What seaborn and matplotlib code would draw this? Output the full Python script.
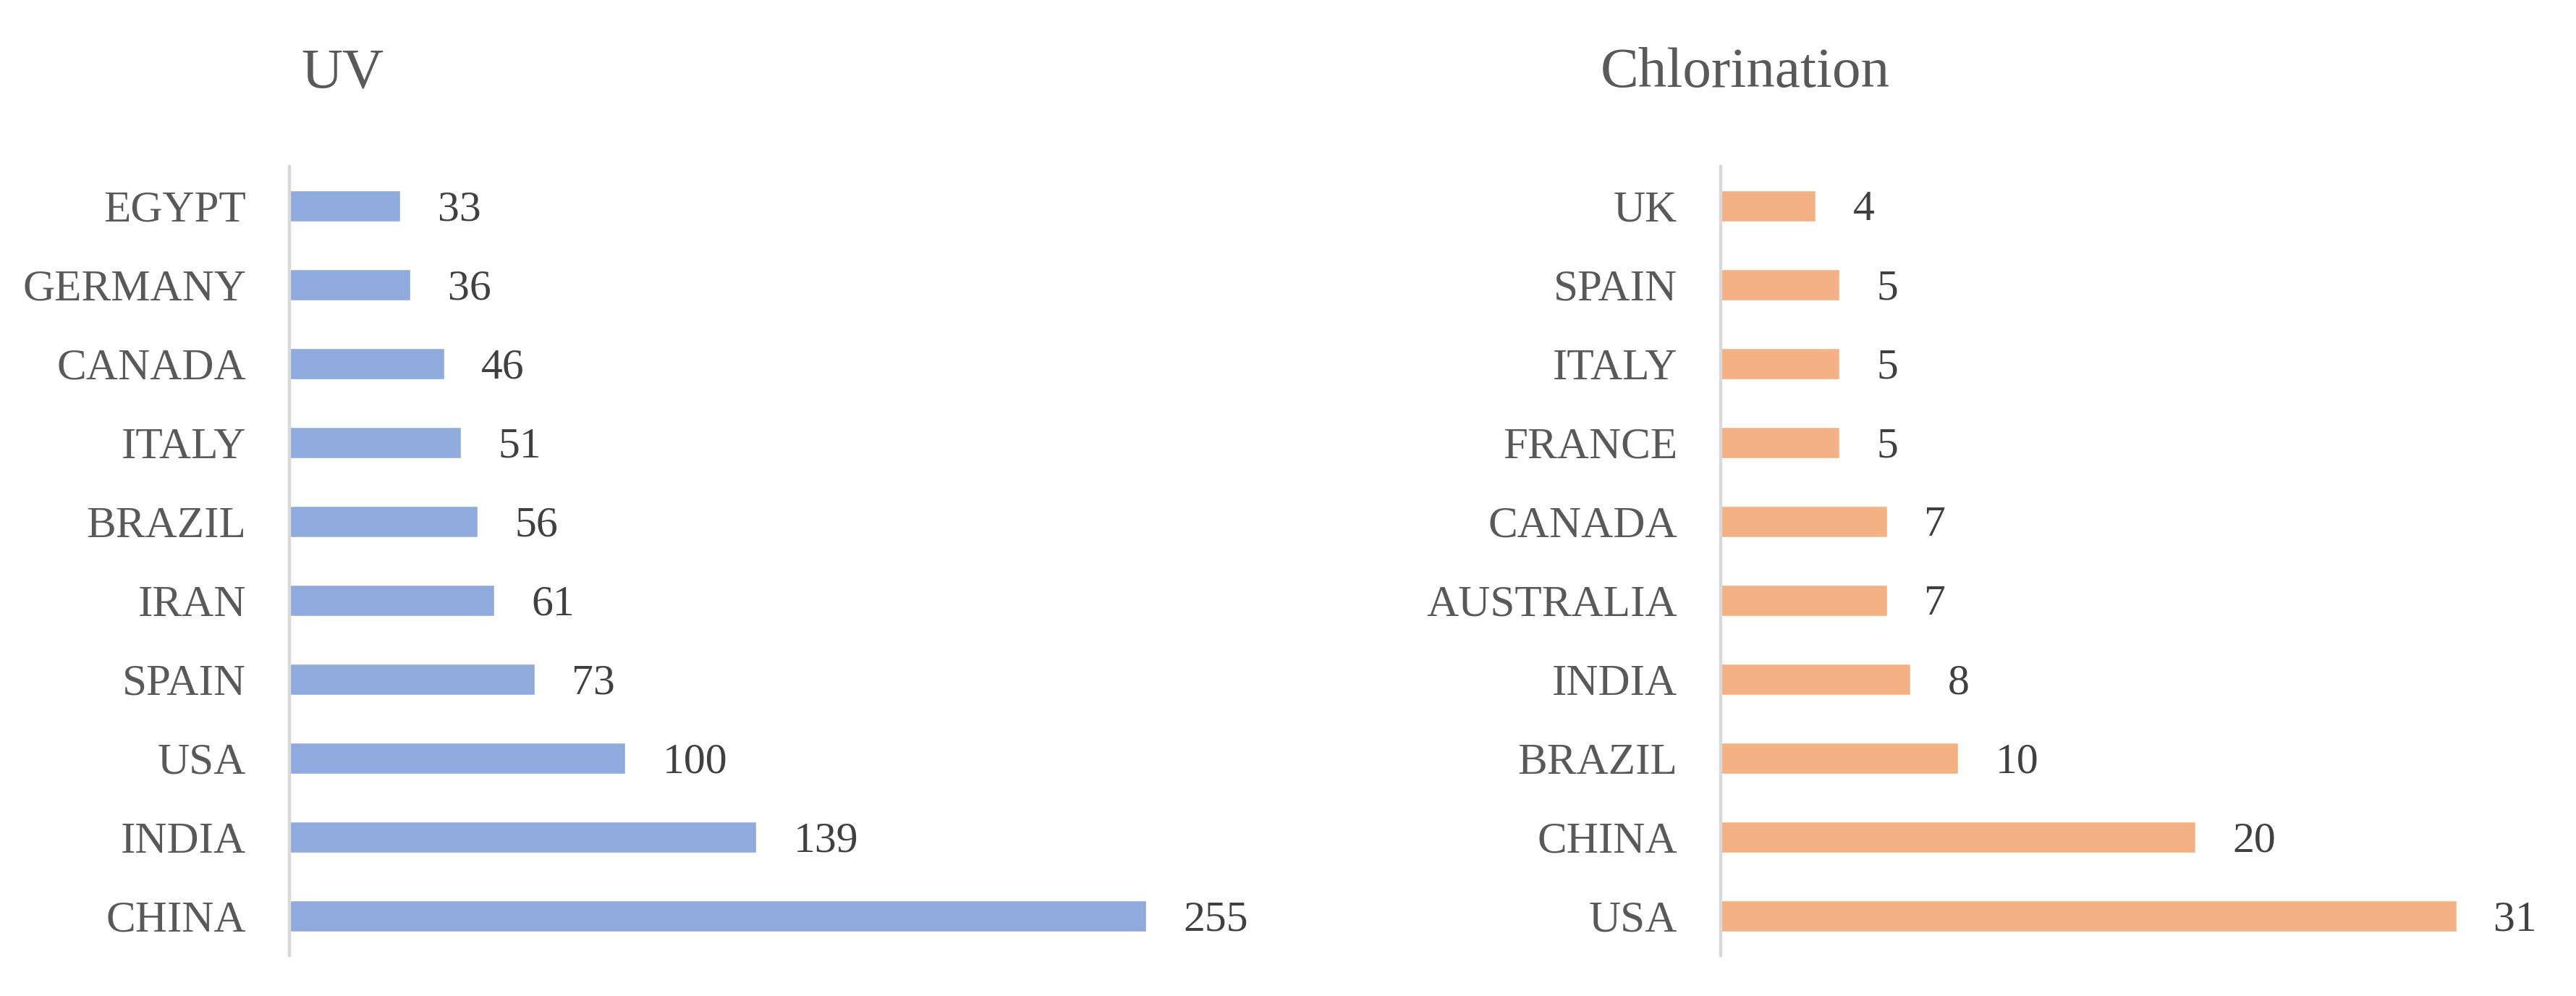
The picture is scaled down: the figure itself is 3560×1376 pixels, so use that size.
import matplotlib
matplotlib.use("Agg")
import matplotlib.pyplot as plt
import seaborn as sns
import pandas as pd

# ---- data ----
uv_countries = ["EGYPT", "GERMANY", "CANADA", "ITALY", "BRAZIL", "IRAN", "SPAIN", "USA", "INDIA", "CHINA"]
uv_values = [33, 36, 46, 51, 56, 61, 73, 100, 139, 255]
chl_countries = ["UK", "SPAIN", "ITALY", "FRANCE", "CANADA", "AUSTRALIA", "INDIA", "BRAZIL", "CHINA", "USA"]
chl_values = [4, 5, 5, 5, 7, 7, 8, 10, 20, 31]
titles = ["UV", "Chlorination"]

sns.set_theme(style="white")
plt.rcParams["font.family"] = ["Liberation Serif", "DejaVu Serif"]

W, H = 3560, 1376
fig = plt.figure(figsize=(W / 100, H / 100), dpi=100)
fig.patch.set_facecolor("white")

def px_axes(left, top, right, bottom):
    return fig.add_axes([left / W, 1 - bottom / H, (right - left) / W, (bottom - top) / H])

panels = [
    (uv_countries, uv_values, "#8FAADC", (400, 230, 1700, 1320), 280, 416),
    (chl_countries, chl_values, "#F4B183", (2378, 230, 3493, 1320), 34, 2212),
]

for (cats, vals, color, box, xmax, tx), title in zip(panels, titles):
    ax = px_axes(*box)
    df = pd.DataFrame({"country": cats, "value": vals})
    sns.barplot(data=df, x="value", y="country", order=cats, orient="h",
                color=color, saturation=1, width=0.4, ax=ax, errorbar=None)
    ax.set_xlim(0, xmax)
    ax.set_ylim(len(cats) - 0.5, -0.5)
    ax.set_xlabel("")
    ax.set_ylabel("")
    ax.set_xticks([])
    for s in ["top", "right", "bottom"]:
        ax.spines[s].set_visible(False)
    ax.spines["left"].set_color("#D9D9D9")
    ax.spines["left"].set_linewidth(3.2)
    ax.tick_params(axis="y", length=0, pad=43, labelsize=44, labelcolor="#595959")
    ax.set_facecolor("white")
    texts = ax.bar_label(ax.containers[0], padding=37, fontsize=43, color="#404040")
    for t in texts:
        t.xyann = (37, -4)
    fig.text(tx / W, 1 - 120 / H, title, fontsize=57, color="#595959",
             ha="left", va="baseline")

fig.savefig("out.png", dpi=100, facecolor="white")
